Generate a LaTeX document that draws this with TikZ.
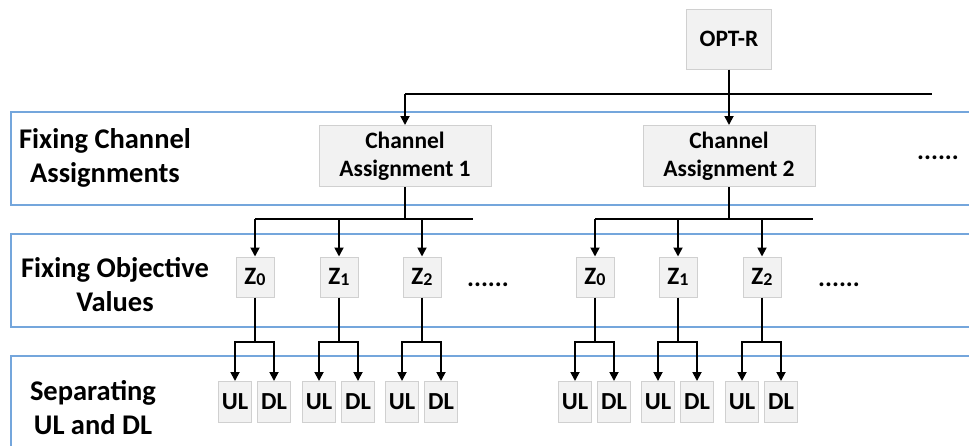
\documentclass[tikz,border=0pt]{standalone}
\usepackage{fontspec}
\setmainfont{Carlito}
\usetikzlibrary{arrows.meta}
\definecolor{boxgray}{HTML}{F2F2F2}
\definecolor{boxedge}{HTML}{D0D0D0}
\definecolor{bandblue}{HTML}{74A6DC}
\begin{document}
\begin{tikzpicture}[x=1pt,y=-1pt,
  blk/.style={draw=boxedge,fill=boxgray,line width=1pt,inner sep=0pt,align=center,font=\bfseries\fontsize{23.5}{28}\selectfont},
  lvl/.style={align=center,font=\bfseries\fontsize{28.5}{34}\selectfont},
  dots/.style={font=\bfseries\fontsize{26}{28}\selectfont},
  band/.style={draw=bandblue,line width=1.5pt},
  link/.style={line width=1.8pt},
  arr/.style={link,-{Triangle[width=9pt,length=9pt]}}]
\useasboundingbox (0,0) rectangle (969,445);

% levels
\draw[band] (990,112) -- (11,112) -- (11,205) -- (990,205);
\draw[band] (990,234) -- (11,234) -- (11,327) -- (990,327);
\draw[band] (990,356) -- (11,356) -- (11,460);
\node[lvl] (lv1) at (105,158) {Fixing Channel\\Assignments};
\node[lvl] (lv2) at (115,285) {Fixing Objective\\Values};
\node[lvl] (lv3) at (93,408) {Separating\\UL and DL};

% top
\node[blk,minimum width=85,minimum height=60] (optr) at (729,39) {OPT-R};
\node[blk,minimum width=172,minimum height=61] (ca1) at (405,156) {Channel\\Assignment 1};
\node[blk,minimum width=172,minimum height=61] (ca2) at (729,156) {Channel\\Assignment 2};
\node[dots] (more0) at (938,158) {......};
\coordinate (bus0) at (405,94);
\coordinate (bus0e) at (932,94);
\draw[link] (bus0) -- (bus0e);
\draw[arr] (bus0) -- (ca1);
\draw[arr] (optr) -- (ca2);

% objective values and UL/DL
\foreach \c/\xe/\xs in {1/473/{255,339,422},2/813/{595,678,762}}{
  \foreach \x [count=\k from 0] in \xs{
    \node[blk,minimum width=38,minimum height=40,font=\bfseries\fontsize{25}{28}\selectfont] (z\c\k) at (\x,277) {Z\raisebox{-1pt}{\fontsize{18}{20}\selectfont\k}};
    \node[blk,minimum width=33,minimum height=41,font=\bfseries\fontsize{24.5}{28}\selectfont] (ul\c\k) at (\x-20,402) {UL};
    \node[blk,minimum width=33,minimum height=41,font=\bfseries\fontsize{24.5}{28}\selectfont] (dl\c\k) at (\x+19,402) {DL};
    \coordinate (fork\c\k) at (\x,342);
  }
  \coordinate (bus\c) at (z\c0 |- 0,219);
  \coordinate (bus\c e) at (\xe,219);
  \draw[link] (ca\c) -- (ca\c |- bus\c);
  \draw[link] (bus\c) -- (bus\c e);
  \foreach \k in {0,1,2}{
    \draw[arr] (z\c\k |- bus\c) -- (z\c\k);
    \draw[link] (z\c\k) -- (fork\c\k);
    \draw[arr] (fork\c\k) -| (ul\c\k);
    \draw[arr] (fork\c\k) -| (dl\c\k);
  }
}
\node[dots] (more1) at (488,285) {......};
\node[dots] (more2) at (839,285) {......};
\end{tikzpicture}
\end{document}
